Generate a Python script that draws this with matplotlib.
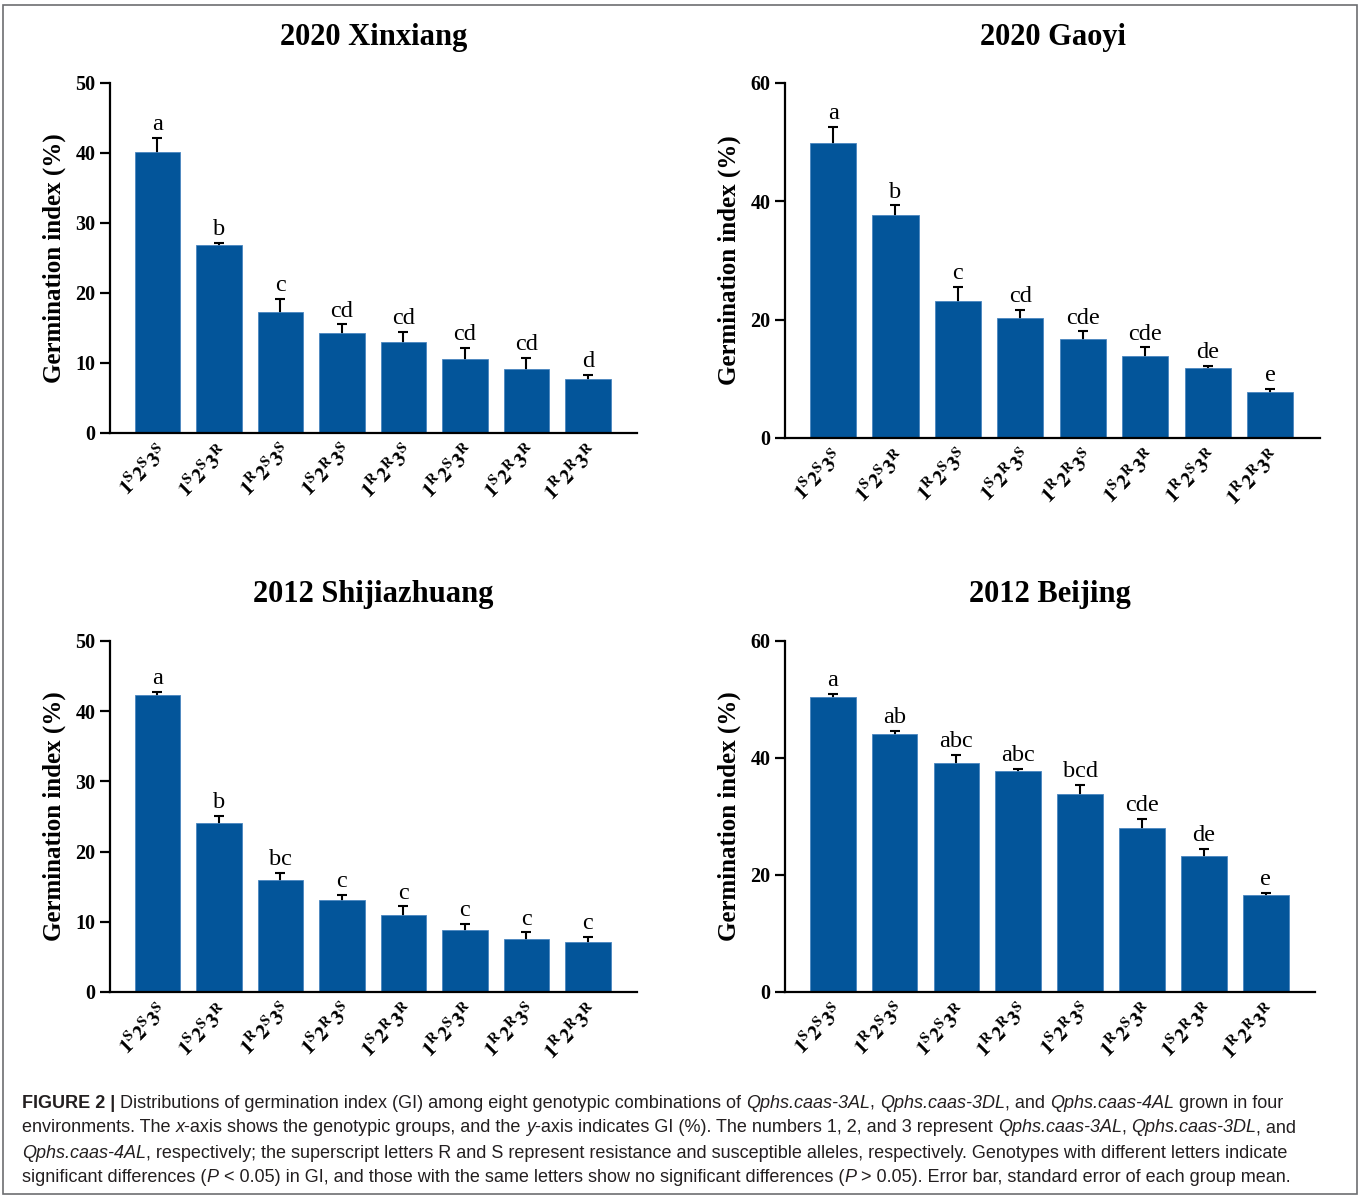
"""
Germination index of eight genotype combinations in four environments
"""
import matplotlib
matplotlib.use("Agg")
import matplotlib.pyplot as plt
from matplotlib.patches import Rectangle

plt.rcParams['font.family'] = ['Liberation Serif', 'DejaVu Serif']
plt.rcParams['mathtext.fontset'] = 'stix'

# ---- data ----
xinxiang_geno = ['SSS', 'SSR', 'RSS', 'SRS', 'RRS', 'RSR', 'SRR', 'RRR']
xinxiang_gi = [40.1, 26.8, 17.3, 14.3, 13.0, 10.6, 9.2, 7.7]
xinxiang_se = [2.1, 0.4, 1.8, 1.2, 1.4, 1.6, 1.5, 0.6]
xinxiang_letters = ['a', 'b', 'c', 'cd', 'cd', 'cd', 'cd', 'd']

gaoyi_geno = ['SSS', 'SSR', 'RSS', 'SRS', 'RRS', 'SRR', 'RSR', 'RRR']
gaoyi_gi = [49.9, 37.7, 23.1, 20.2, 16.7, 13.9, 11.9, 7.8]
gaoyi_se = [2.7, 1.6, 2.5, 1.4, 1.3, 1.4, 0.3, 0.5]
gaoyi_letters = ['a', 'b', 'c', 'cd', 'cde', 'cde', 'de', 'e']

shijiazhuang_geno = ['SSS', 'SSR', 'RSS', 'SRS', 'SRR', 'RSR', 'RRS', 'RRR']
shijiazhuang_gi = [42.3, 24.1, 16.0, 13.1, 10.9, 8.8, 7.5, 7.1]
shijiazhuang_se = [0.5, 1.0, 1.0, 0.7, 1.3, 0.9, 1.0, 0.8]
shijiazhuang_letters = ['a', 'b', 'bc', 'c', 'c', 'c', 'c', 'c']

beijing_geno = ['SSS', 'RSS', 'SSR', 'RRS', 'SRS', 'RSR', 'SRR', 'RRR']
beijing_gi = [50.5, 44.1, 39.2, 37.8, 33.9, 28.1, 23.3, 16.6]
beijing_se = [0.5, 0.5, 1.3, 0.4, 1.5, 1.5, 1.2, 0.4]
beijing_letters = ['a', 'ab', 'abc', 'abc', 'bcd', 'cde', 'de', 'e']

panels = [
    ('2020 Xinxiang', xinxiang_geno, xinxiang_gi, xinxiang_se, xinxiang_letters, 50, 10,
     [0.0809, 0.6383, 0.3875, 0.2924]),
    ('2020 Gaoyi', gaoyi_geno, gaoyi_gi, gaoyi_se, gaoyi_letters, 60, 20,
     [0.5772, 0.6341, 0.3934, 0.2966]),
    ('2012 Shijiazhuang', shijiazhuang_geno, shijiazhuang_gi, shijiazhuang_se,
     shijiazhuang_letters, 50, 10, [0.0809, 0.1713, 0.3875, 0.2932]),
    ('2012 Beijing', beijing_geno, beijing_gi, beijing_se, beijing_letters, 60, 20,
     [0.5772, 0.1713, 0.3900, 0.2932]),
]

BAR_COLOR = '#03559a'
W, H = 1360, 1197

fig = plt.figure(figsize=(W / 100, H / 100), dpi=100)


def geno_label(g):
    return r'$\mathbf{1^{%s}2^{%s}3^{%s}}$' % (g[0], g[1], g[2])


for title, geno, gi, se, letters, ymax, ystep, rect in panels:
    ax = fig.add_axes(rect)
    x = list(range(len(gi)))
    ax.errorbar(x, gi, yerr=se, fmt='none', ecolor='black', elinewidth=1.5,
                capsize=3.5, capthick=1.5, zorder=1)
    ax.bar(x, gi, width=0.74, color=BAR_COLOR, edgecolor='#4a86c0',
           linewidth=0.6, zorder=2)
    for xi, v, e, let in zip(x, gi, se, letters):
        ax.annotate(let, (xi, v + e), xytext=(0, 2), textcoords='offset points',
                    ha='center', va='bottom', fontsize=17.5)

    ax.set_xlim(-0.77, 7.8)
    ax.set_ylim(0, ymax)
    ax.set_yticks(range(0, ymax + 1, ystep))
    ax.set_xticks(x)
    ax.set_xticklabels([geno_label(g) for g in geno], rotation=45, ha='right',
                       rotation_mode='anchor', fontsize=15)
    ax.tick_params(axis='x', length=0, pad=6)
    ax.tick_params(axis='y', length=7, width=1.6, labelsize=14.5)
    for lbl in ax.get_yticklabels():
        lbl.set_fontweight('bold')
    for s in ['top', 'right']:
        ax.spines[s].set_visible(False)
    for s in ['left', 'bottom']:
        ax.spines[s].set_linewidth(1.6)
    ax.set_ylabel('Germination index (%)', fontsize=18, fontweight='bold', labelpad=7)

    cx = rect[0] + rect[2] / 2
    ty = 1 - 37 / H if rect[1] > 0.5 else 1 - 595 / H
    fig.text(cx, ty, title, ha='center', va='center', fontsize=22, fontweight='bold')

# ---- caption ----
renderer = fig.canvas.get_renderer()
CAP_FONT = ['Liberation Sans Narrow', 'Liberation Sans', 'DejaVu Sans']
CAP_SIZE = 13
STYLES = {
    'r': dict(),
    'b': dict(fontweight='bold'),
    'i': dict(fontstyle='italic'),
}

caption_lines = [
    [('FIGURE 2 |', 'b'),
     (' Distributions of germination index (GI) among eight genotypic combinations of ', 'r'),
     ('Qphs.caas-3AL', 'i'), (', ', 'r'), ('Qphs.caas-3DL', 'i'), (', and ', 'r'),
     ('Qphs.caas-4AL', 'i'), (' grown in four', 'r')],
    [('environments. The ', 'r'), ('x', 'i'),
     ('-axis shows the genotypic groups, and the ', 'r'), ('y', 'i'),
     ('-axis indicates GI (%). The numbers 1, 2, and 3 represent ', 'r'),
     ('Qphs.caas-3AL', 'i'), (', ', 'r'), ('Qphs.caas-3DL', 'i'), (', and', 'r')],
    [('Qphs.caas-4AL', 'i'),
     (', respectively; the superscript letters R and S represent resistance and '
      'susceptible alleles, respectively. Genotypes with different letters indicate', 'r')],
    [('significant differences (', 'r'), ('P', 'i'),
     (' < 0.05) in GI, and those with the same letters show no significant differences (', 'r'),
     ('P', 'i'), (' > 0.05). Error bar, standard error of each group mean.', 'r')],
]
caption_y = [1103, 1128, 1153, 1178]


def text_width(s, style):
    kw = dict(fontsize=CAP_SIZE, family=CAP_FONT, **STYLES[style])
    t1 = fig.text(0, 0, 'x' + s + 'x', **kw)
    t2 = fig.text(0, 0, 'xx', **kw)
    w = t1.get_window_extent(renderer).width - t2.get_window_extent(renderer).width
    t1.remove()
    t2.remove()
    return w


for segs, ypx in zip(caption_lines, caption_y):
    xpx = 22
    for s, style in segs:
        fig.text(xpx / W, 1 - ypx / H, s, ha='left', va='center', fontsize=CAP_SIZE,
                 family=CAP_FONT, color='#231f20', **STYLES[style])
        xpx += text_width(s, style)

# outer frame
fig.patches.append(Rectangle((3 / W, 3 / H), 1 - 6 / W, 1 - 8 / H, transform=fig.transFigure,
                             fill=False, edgecolor='#6d6e71', linewidth=1.2))

plt.savefig('out.png', dpi=100)
